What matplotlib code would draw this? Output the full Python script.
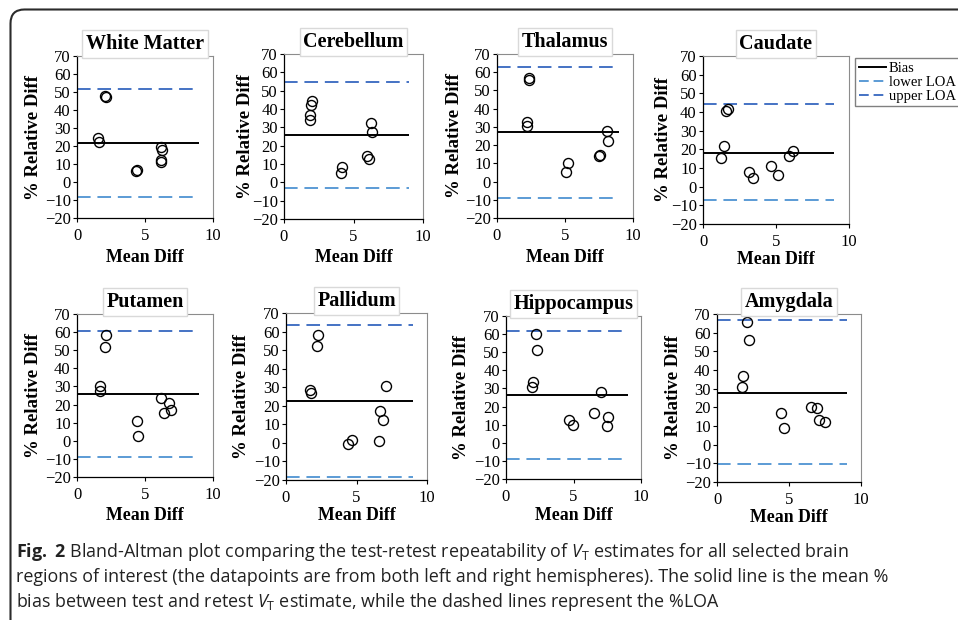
import matplotlib
matplotlib.use("Agg")
import matplotlib.pyplot as plt
from matplotlib.lines import Line2D
from matplotlib.patches import FancyBboxPatch
from matplotlib.transforms import IdentityTransform

# ---------------- data ----------------
regions = ["White Matter", "Cerebellum", "Thalamus", "Caudate",
           "Putamen", "Pallidum", "Hippocampus", "Amygdala"]

wm_x = [1.55, 1.6, 2.05, 2.1, 4.35, 4.4, 6.2, 6.25, 6.15, 6.2]
wm_y = [24.5, 22.5, 48.0, 47.0, 6.0, 6.5, 19.5, 18.0, 12.0, 11.0]

cb_x = [1.99, 1.97, 1.87, 1.9, 4.14, 4.1, 6.24, 6.3, 5.98, 6.15]
cb_y = [44.1, 42.3, 36.8, 33.8, 8.6, 5.3, 32.3, 27.2, 14.4, 12.6]

th_x = [2.38, 2.36, 2.2, 2.2, 5.2, 5.07, 7.55, 7.52, 8.09, 8.16]
th_y = [57.0, 56.0, 32.5, 30.3, 10.2, 5.3, 14.6, 14.2, 28.0, 22.1]

cd_x = [1.55, 1.71, 1.42, 1.26, 3.15, 3.42, 4.68, 5.14, 5.89, 6.16]
cd_y = [40.6, 41.5, 21.9, 15.5, 7.8, 4.9, 11.2, 6.0, 16.5, 19.2]

pt_x = [1.71, 1.66, 2.1, 2.07, 4.39, 4.49, 6.15, 6.78, 6.41, 6.88]
pt_y = [30.0, 27.6, 58.6, 51.8, 10.7, 2.8, 23.4, 20.8, 15.3, 17.1]

pl_x = [2.26, 2.21, 1.67, 1.76, 4.42, 4.71, 6.61, 6.66, 6.85, 7.08]
pl_y = [58.3, 52.0, 28.6, 26.8, -0.7, 1.7, 0.8, 17.3, 12.1, 30.4]

hc_x = [2.23, 2.28, 2.03, 1.96, 4.63, 4.95, 6.53, 7.05, 7.55, 7.48]
hc_y = [59.8, 51.3, 33.3, 30.9, 12.5, 9.9, 16.4, 28.0, 14.5, 9.1]

am_x = [2.1, 2.19, 1.84, 1.77, 4.47, 4.63, 6.52, 6.91, 7.1, 7.51]
am_y = [65.7, 55.9, 37.0, 31.0, 16.7, 9.0, 20.1, 19.6, 13.0, 12.2]

bias = [21.5, 25.6, 27.0, 18.3, 25.8, 22.7, 26.6, 27.9]
upper_loa = [51.5, 54.5, 62.7, 44.2, 60.8, 63.7, 61.8, 66.6]
lower_loa = [-8.5, -3.0, -8.8, -7.4, -9.2, -18.5, -8.8, -10.6]

xs = [wm_x, cb_x, th_x, cd_x, pt_x, pl_x, hc_x, am_x]
ys = [wm_y, cb_y, th_y, cd_y, pt_y, pl_y, hc_y, am_y]

line_end = 9
y_ticks = [-20, -10, 0, 10, 20, 30, 40, 50, 60, 70]
x_ticks = [0, 5, 10]

# ---------------- layout ----------------
W, H = 958, 620
fig = plt.figure(figsize=(W / 100, H / 100), dpi=100)

# axes boxes in pixels: left, top, right, bottom
boxes = [(77, 56, 213, 218), (284, 54, 423, 219), (497, 54, 633, 218), (703, 56, 849, 224),
         (77, 314, 213, 477), (286, 313, 427, 480), (506, 316, 641, 479), (717, 314, 861, 482)]
xlab_off = [39, 38, 39, 36, 38, 36, 37, 35]   # px below axis to label centre
ylab_off = [44, 39, 42, 40, 44, 44, 44, 44]   # px left of axis to label centre

serif = "Liberation Serif"
upper_col = "#4472C4"
lower_col = "#5B9BD5"
dash = (0, (7, 3.5))

for i, (l, t, r, b) in enumerate(boxes):
    wpx, hpx = r - l, b - t
    ax = fig.add_axes([l / W, 1 - b / H, wpx / W, hpx / H])
    ax.set_xlim(0, 10)
    ax.set_ylim(-20, 70)
    ax.hlines(upper_loa[i], 0, line_end, colors=upper_col, linestyles=dash, lw=1.4, zorder=2)
    ax.hlines(lower_loa[i], 0, line_end, colors=lower_col, linestyles=dash, lw=1.4, zorder=2)
    ax.hlines(bias[i], 0, line_end, colors="black", lw=1.4, zorder=2)
    ax.plot(xs[i], ys[i], linestyle="none", marker="o", markersize=7.2,
            markerfacecolor="none", markeredgecolor="black", markeredgewidth=1.0, zorder=3)
    ax.set_xticks(x_ticks)
    ax.set_yticks(y_ticks)
    ax.tick_params(direction="out", length=3, width=0.8, labelsize=12)
    ax.tick_params(axis="x", pad=4)
    ax.tick_params(axis="y", pad=1.5)
    for lab in ax.get_xticklabels() + ax.get_yticklabels():
        lab.set_fontfamily(serif)
    ax.set_xlabel("Mean Diff", fontfamily=serif, fontweight="bold", fontsize=12.8)
    ax.set_ylabel("% Relative Diff", fontfamily=serif, fontweight="bold", fontsize=13.5)
    ax.xaxis.set_label_coords(0.5, -xlab_off[i] / hpx)
    ax.xaxis.label.set_va("center")
    ax.yaxis.set_label_coords(-ylab_off[i] / wpx, 0.5)
    ax.yaxis.label.set_va("center")
    for s in ["top", "right"]:
        ax.spines[s].set_color("#8c8c8c")
        ax.spines[s].set_linewidth(0.8)
    for s in ["left", "bottom"]:
        ax.spines[s].set_color("black")
        ax.spines[s].set_linewidth(0.9)
    ax.set_title(regions[i], fontfamily=serif, fontweight="bold", fontsize=14.5, pad=5,
                 bbox=dict(facecolor="white", edgecolor="#d9d9d9", boxstyle="square,pad=0.18"))

# legend
handles = [Line2D([], [], color="black", lw=1.4),
           Line2D([], [], color=lower_col, lw=1.4, linestyle=(0, (5, 2.5))),
           Line2D([], [], color=upper_col, lw=1.4, linestyle=(0, (5, 2.5)))]
fig.legend(handles, ["Bias", "lower LOA", "upper LOA"], loc="upper left",
           bbox_to_anchor=(855 / W, 1 - 58 / H), frameon=True, fancybox=False,
           edgecolor="#808080", framealpha=1, prop={"family": serif, "size": 10.5},
           handlelength=1.9, handletextpad=0.15, borderpad=0.25, labelspacing=0.05,
           borderaxespad=0)

# outer rounded border
border = FancyBboxPatch((10.5, -40), 1000, H - 9.5 + 40, boxstyle="round,pad=0,rounding_size=14",
                        transform=IdentityTransform(), facecolor="none", edgecolor="#2b2b2b", lw=1.5)
fig.add_artist(border)

# caption
plt.rcParams["mathtext.fontset"] = "custom"
plt.rcParams["mathtext.rm"] = "Open Sans"
plt.rcParams["mathtext.it"] = "Open Sans:italic"
plt.rcParams["mathtext.bf"] = "Open Sans:bold"
cap_lines = [r"$\mathbf{Fig.\ 2}$ Bland-Altman plot comparing the test-retest repeatability of $V_{\mathrm{T}}$ estimates for all selected brain",
             "regions of interest (the datapoints are from both left and right hemispheres). The solid line is the mean %",
             r"bias between test and retest $V_{\mathrm{T}}$ estimate, while the dashed lines represent the %LOA"]
cap_base = [557, 582, 607]
target_total = 794 + 931 + 674
fs = 12.0
renderer = fig.canvas.get_renderer()
total = 0
for txt in cap_lines:
    probe = fig.text(0, 0, txt, fontsize=fs, family="Open Sans")
    total += probe.get_window_extent(renderer).width
    probe.remove()
fs = fs * target_total / total
for txt, yb in zip(cap_lines, cap_base):
    fig.text(16 / W, 1 - yb / H, txt, fontsize=fs, family="Open Sans", color="#222222",
             va="baseline", ha="left")

fig.savefig("out.png", dpi=100)
